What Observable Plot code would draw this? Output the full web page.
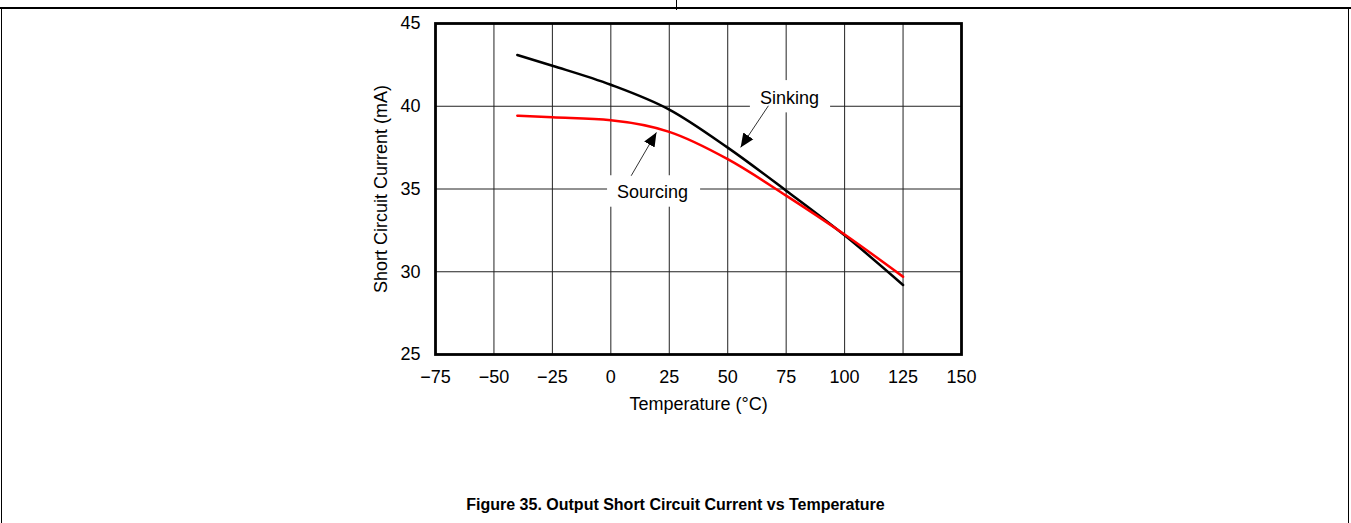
<!DOCTYPE html>
<html>
<head>
<meta charset="utf-8">
<script src="https://cdn.jsdelivr.net/npm/d3@7"></script>
<script src="https://cdn.jsdelivr.net/npm/@observablehq/plot@0.6"></script>
<style>
  html, body { margin: 0; padding: 0; background: #fff; }
  #page { position: relative; width: 1351px; height: 523px; overflow: hidden; background: #fff; font-family: "Liberation Sans", Arial, sans-serif; }
  .rule { position: absolute; background: #000; }
  #chart { position: absolute; left: 340px; top: 0px; }
  #caption { position: absolute; left: 0; width: 1351px; top: 496px; text-align: center; font-weight: bold; font-size: 16px; line-height: 18px; color: #000; }
</style>
</head>
<body>
<div id="page">
  <div class="rule" style="left:0;top:7px;width:1351px;height:2px"></div>
  <div class="rule" style="left:676px;top:0;width:1px;height:10px"></div>
  <div class="rule" style="left:1px;top:7px;width:1px;height:516px"></div>
  <div class="rule" style="left:1348px;top:7px;width:1px;height:516px"></div>
  <div id="chart"></div>
  <div id="caption">Figure 35. Output Short Circuit Current vs Temperature</div>
</div>
<script>
// ---- data ----
const temperatures = [-40, -25, 0, 25, 50, 75, 100, 125];
const sinkingCurrent = [43.1, 42.45, 41.3, 39.8, 37.5, 34.9, 32.2, 29.2];
const sourcingCurrent = [39.43, 39.33, 39.15, 38.45, 36.8, 34.6, 32.25, 29.7];
const xTicks = [-75, -50, -25, 0, 25, 50, 75, 100, 125, 150];
const yTicks = [25, 30, 35, 40, 45];
const xGrid = [-50, -25, 0, 25, 50, 75, 100, 125];
const yGrid = [30, 35, 40];
const labelNames = ["Sinking", "Sourcing"];
const labelX = [76.4, 17.8];
const labelY = [40.5, 34.8];
const maskX1 = [59.7, -1.4];
const maskX2 = [94.0, 38.4];
const maskY1 = [39.6, 33.9];
const maskY2 = [41.55, 35.8];
const arrowFromX = [67.4, 8.7];
const arrowFromY = [40.03, 35.8];
const arrowToX = [55.5, 19.5];
const arrowToY = [37.51, 38.42];
const xTitle = "Temperature (°C)";
const yTitle = "Short Circuit Current (mA)";

const sinkData = temperatures.map((t, i) => ({t, v: sinkingCurrent[i]}));
const sourceData = temperatures.map((t, i) => ({t, v: sourcingCurrent[i]}));
const labels = labelNames.map((name, i) => ({name, x: labelX[i], y: labelY[i]}));
const masks = labelNames.map((name, i) => ({x1: maskX1[i], x2: maskX2[i], y1: maskY1[i], y2: maskY2[i]}));
const arrows = labelNames.map((name, i) => ({x1: arrowFromX[i], y1: arrowFromY[i], x2: arrowToX[i], y2: arrowToY[i]}));

function triangleMarker(color, context) {
  const m = d3.create("svg:marker")
    .attr("viewBox", "-14 -7 14 14")
    .attr("markerWidth", 14)
    .attr("markerHeight", 14)
    .attr("markerUnits", "userSpaceOnUse")
    .attr("refX", 0).attr("refY", 0)
    .attr("orient", "auto");
  m.append("path").attr("d", "M0,0L-14,-6L-14,6Z").attr("fill", "#000").attr("stroke", "none");
  return m.node();
}

const chart = Plot.plot({
  width: 640,
  height: 414,
  marginLeft: 95,
  marginRight: 19,
  marginTop: 23,
  marginBottom: 60,
  style: {fontFamily: "'Liberation Sans', Arial, sans-serif", fontSize: "18px", color: "#000", background: "transparent", overflow: "visible"},
  x: {domain: [-75, 150]},
  y: {domain: [25, 45]},
  marks: [
    Plot.gridX(xGrid, {stroke: "#222", strokeOpacity: 1, strokeWidth: 1}),
    Plot.gridY(yGrid, {stroke: "#222", strokeOpacity: 1, strokeWidth: 1}),
    Plot.rect(masks, {x1: "x1", x2: "x2", y1: "y1", y2: "y2", fill: "#fff"}),
    Plot.frame({stroke: "#000", strokeWidth: 2.8}),
    Plot.axisX(xTicks, {tickSize: 0, tickPadding: 16, fontSize: 18, label: null}),
    Plot.axisY(yTicks, {tickSize: 0, tickPadding: 15, fontSize: 18, label: null}),
    Plot.line(sinkData, {x: "t", y: "v", stroke: "#000", strokeWidth: 2.5, curve: "monotone-x"}),
    Plot.line(sourceData, {x: "t", y: "v", stroke: "#ff0000", strokeWidth: 2.5, curve: "monotone-x"}),
    Plot.link(arrows, {x1: "x1", y1: "y1", x2: "x2", y2: "y2", stroke: "#333", strokeWidth: 1, markerEnd: triangleMarker}),
    Plot.text(labels, {x: "x", y: "y", text: "name", fontSize: 18, fill: "#000"}),
    Plot.text([xTitle], {frameAnchor: "bottom", dy: 50, lineAnchor: "middle", textAnchor: "middle", fontSize: 18, fill: "#000"}),
    Plot.text([yTitle], {frameAnchor: "left", dx: -54, rotate: -90, lineAnchor: "middle", textAnchor: "middle", fontSize: 18, fill: "#000"})
  ]
});
document.getElementById("chart").appendChild(chart);
</script>
</body>
</html>
